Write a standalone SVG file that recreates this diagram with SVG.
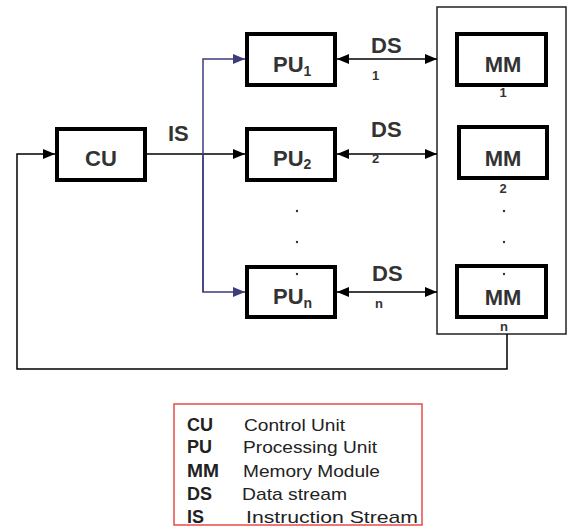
<svg xmlns="http://www.w3.org/2000/svg" width="580" height="530" viewBox="0 0 580 530">
<defs>
<marker id="ah" markerUnits="userSpaceOnUse" markerWidth="12" markerHeight="12" viewBox="0 0 12 12" refX="12" refY="6" orient="auto-start-reverse"><path d="M0,1 L12,6 L0,11 Z" fill="#000"/></marker>
<marker id="ahb" markerUnits="userSpaceOnUse" markerWidth="12" markerHeight="12" viewBox="0 0 12 12" refX="12" refY="6" orient="auto"><path d="M0,1 L12,6 L0,11 Z" fill="#3c3c7c"/></marker>
</defs>
<style>
.box{fill:#fff;stroke:#000;stroke-width:4}
.lbl{font-family:"Liberation Sans",Arial,sans-serif;font-weight:bold;font-size:22px;fill:#333}
.sub{font-family:"Liberation Sans",Arial,sans-serif;font-weight:bold;font-size:14px;fill:#333}
.ds{font-family:"Liberation Sans",Arial,sans-serif;font-weight:bold;font-size:13px;fill:#333}
.ln{fill:none;stroke:#000;stroke-width:1.5}
.bl{fill:none;stroke:#3c3c7c;stroke-width:1.5}
.dot{fill:#333}
.lg{font-family:"Liberation Sans",Arial,sans-serif;font-size:17px;fill:#222}
.lgb{font-family:"Liberation Sans",Arial,sans-serif;font-size:18px;font-weight:bold;fill:#222}
</style>
<rect x="437" y="7" width="129" height="327" fill="#fff" stroke="#222" stroke-width="1.5"/>
<g id="connectors">
<polyline class="ln" points="507,334 507,369 17,369 17,154 55,154" marker-end="url(#ah)"/>
<line class="ln" x1="147" y1="154" x2="245" y2="154" marker-end="url(#ah)"/>
<polyline class="bl" points="203,292 203,59 245,59" marker-end="url(#ahb)"/>
<polyline class="bl" points="203,154 203,292 245,292" marker-end="url(#ahb)"/>
<line class="ln" x1="337" y1="59" x2="437" y2="59" stroke="#555" marker-start="url(#ah)" marker-end="url(#ah)"/>
<line class="ln" x1="337" y1="154" x2="437" y2="154" marker-start="url(#ah)" marker-end="url(#ah)"/>
<line class="ln" x1="337" y1="292" x2="437" y2="292" marker-start="url(#ah)" marker-end="url(#ah)"/>
<text class="lbl" x="168" y="141">IS</text>
<text class="lbl" x="371" y="53">DS</text>
<text class="ds" x="372" y="80">1</text>
<text class="lbl" x="371" y="137">DS</text>
<text class="ds" x="372" y="163">2</text>
<text class="lbl" x="372" y="281">DS</text>
<text class="ds" x="375" y="308">n</text>
</g>
<g id="cu"><rect class="box" x="57" y="129" width="88" height="51"/><text class="lbl" x="101" y="166" text-anchor="middle">CU</text></g>
<g id="pu1"><rect class="box" x="247" y="34" width="88" height="51"/><text class="lbl" x="273" y="72">PU<tspan class="sub" dy="4">1</tspan></text></g>
<g id="pu2"><rect class="box" x="247" y="129" width="88" height="51"/><text class="lbl" x="273" y="166">PU<tspan class="sub" dy="3">2</tspan></text></g>
<g id="pun"><rect class="box" x="247" y="267" width="88" height="50"/><text class="lbl" x="273" y="304">PU<tspan class="sub" dy="4">n</tspan></text></g>
<g id="mm1"><rect class="box" x="457" y="34" width="89" height="51"/><text class="lbl" x="503" y="72" text-anchor="middle">MM</text><text class="ds" x="503" y="97" text-anchor="middle">1</text></g>
<g id="mm2"><rect class="box" x="459" y="127" width="88" height="51"/><text class="lbl" x="503" y="166" text-anchor="middle">MM</text><text class="ds" x="503" y="193" text-anchor="middle">2</text></g>
<g id="mmn"><rect class="box" x="457" y="266" width="89" height="51"/><text class="lbl" x="503" y="305" text-anchor="middle">MM</text><text class="ds" x="504" y="331" text-anchor="middle">n</text></g>
<g id="dots">
<circle class="dot" cx="297" cy="211" r="1.2"/><circle class="dot" cx="297" cy="242" r="1.2"/><circle class="dot" cx="297" cy="274" r="1.2"/>
<circle class="dot" cx="504" cy="211" r="1.2"/><circle class="dot" cx="504" cy="242" r="1.2"/><circle class="dot" cx="504" cy="274" r="1.2"/>
</g>
<g id="legend">
<rect x="174" y="404" width="248" height="121" fill="#fff" stroke="#e84a4a" stroke-width="1.5"/>
<text class="lgb" x="187" y="431">CU</text><text class="lg" x="244" y="431" textLength="101" lengthAdjust="spacingAndGlyphs">Control Unit</text>
<text class="lgb" x="187" y="453">PU</text><text class="lg" x="243" y="453" textLength="134" lengthAdjust="spacingAndGlyphs">Processing Unit</text>
<text class="lgb" x="187" y="477" textLength="32" lengthAdjust="spacingAndGlyphs">MM</text><text class="lg" x="243" y="477" textLength="137" lengthAdjust="spacingAndGlyphs">Memory Module</text>
<text class="lgb" x="187" y="500">DS</text><text class="lg" x="242" y="500" textLength="105" lengthAdjust="spacingAndGlyphs">Data stream</text>
<text class="lgb" x="187" y="523">IS</text><text class="lg" x="246" y="523" textLength="172" lengthAdjust="spacingAndGlyphs">Instruction Stream</text>
</g>
</svg>
